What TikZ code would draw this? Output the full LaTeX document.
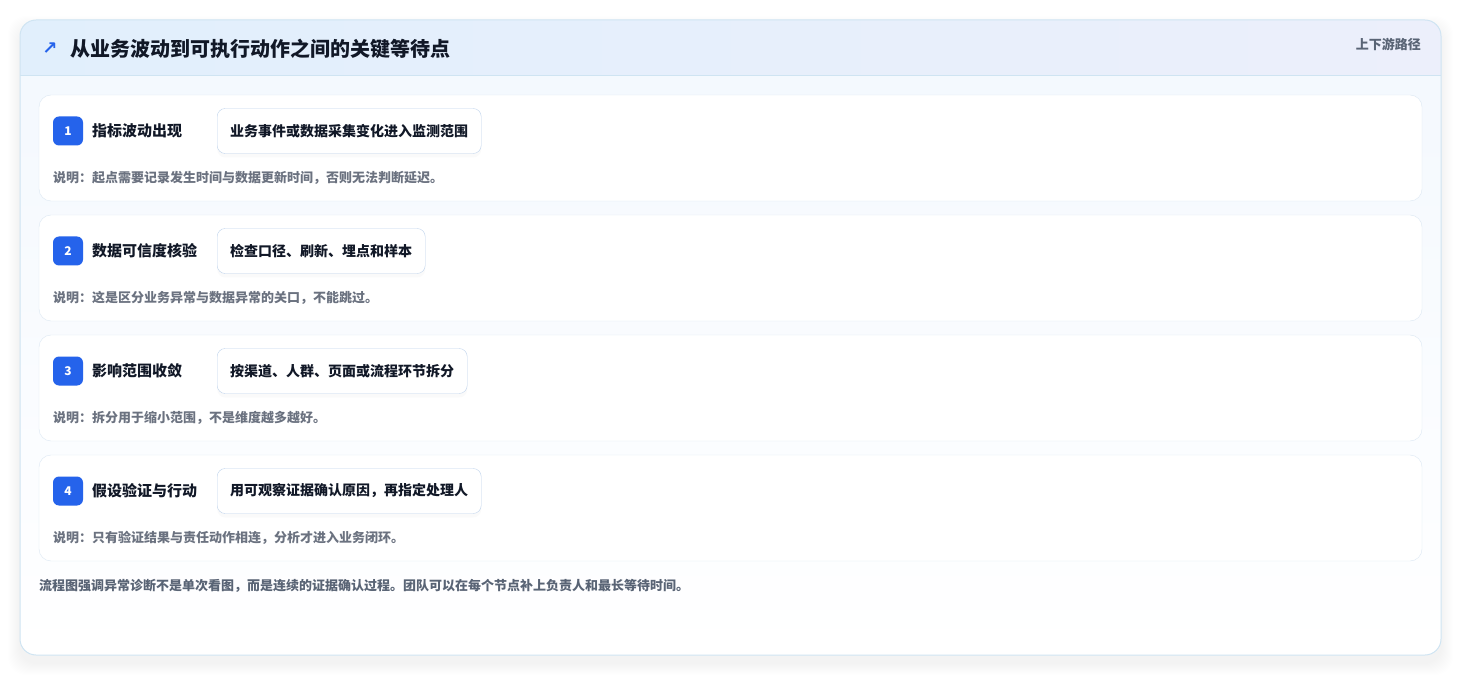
\documentclass[tikz,border=0pt]{standalone}
\usepackage{fontspec}
\setmainfont{Noto Sans CJK SC}
\newfontfamily\symfont{DejaVu Sans}
\usetikzlibrary{shadows}

\definecolor{cardline}{HTML}{CFE4F2}
\definecolor{hdrleft}{HTML}{E1EFFC}
\definecolor{hdrright}{HTML}{ECEFFB}
\definecolor{bodytop}{HTML}{F3F8FE}
\definecolor{rowline}{HTML}{DCE8F3}
\definecolor{boxline}{HTML}{BFD3EC}
\definecolor{badgeblue}{HTML}{2563EB}
\definecolor{titleink}{HTML}{111827}
\definecolor{noteink}{HTML}{6B7280}
\definecolor{footink}{HTML}{596475}

\tikzset{
  badge/.style={fill=badgeblue, rounded corners=6pt, minimum width=30pt,
    minimum height=29pt, inner sep=0pt, text=white,
    font=\fontsize{12}{14}\selectfont\bfseries},
  steplabel/.style={anchor=west, inner sep=0pt, text=titleink,
    font=\fontsize{15}{18}\selectfont\bfseries},
  actionbox/.style={anchor=west, draw=boxline, fill=white, rounded corners=8pt,
    minimum height=45pt, inner xsep=13pt, text=titleink,
    drop shadow={opacity=0.035, shadow xshift=0pt, shadow yshift=-4pt},
    font=\fontsize{14}{16}\selectfont\bfseries},
  notetext/.style={anchor=west, inner sep=0pt, text=noteink,
    font=\fontsize{13}{15}\selectfont\bfseries},
}

\begin{document}
\begin{tikzpicture}[x=1pt, y=-1pt]
    \useasboundingbox (0,0) rectangle (1462,676);

    % soft shadow of the card
    \foreach \s in {1,...,12}
        {\fill[black, opacity=0.005, rounded corners=18pt]
            (20-\s,28-\s) rectangle (1441+\s,663+\s);}

    % card body and header band
    \shade[top color=bodytop, bottom color=white, rounded corners=16pt]
        (20,20) rectangle (1441,655);
    \begin{scope}
        \clip (20,20) rectangle (1441,75);
        \shade[left color=hdrleft, right color=hdrright, rounded corners=16pt]
            (20,20) rectangle (1441,120);
    \end{scope}
    \draw[cardline, line width=0.8pt] (20,75) -- (1441,75);
    \draw[cardline, line width=1pt, rounded corners=16pt] (20,20) rectangle (1441,655);

    \node[text=badgeblue, font=\symfont\bfseries\fontsize{18}{18}\selectfont] (icon) at (50,49) {↗};
    \node[anchor=west, inner sep=0pt, text=titleink,
        font=\fontsize{20}{24}\selectfont\bfseries] (title) at (70,49)
        {从业务波动到可执行动作之间的关键等待点};
    \node[anchor=east, inner sep=0pt, text=footink,
        font=\fontsize{13}{15}\selectfont\bfseries] (path) at (1421,44) {上下游路径};

    % four steps
    \foreach \i/\name/\act/\note in {
        1/指标波动出现/业务事件或数据采集变化进入监测范围/说明：起点需要记录发生时间与数据更新时间，否则无法判断延迟。,
        2/数据可信度核验/检查口径、刷新、埋点和样本/说明：这是区分业务异常与数据异常的关口，不能跳过。,
        3/影响范围收敛/按渠道、人群、页面或流程环节拆分/说明：拆分用于缩小范围，不是维度越多越好。,
        4/假设验证与行动/用可观察证据确认原因，再指定处理人/说明：只有验证结果与责任动作相连，分析才进入业务闭环。}
    {
        \pgfmathsetmacro{\top}{95+120*(\i-1)}
        \draw[rowline, fill=white, rounded corners=12pt]
            (39,\top) rectangle (1422,\top+106);
        \node[badge] (badge\i) at (68,\top+36) {\i};
        \node[steplabel] (label\i) at (92,\top+36) {\name};
        \node[actionbox] (act\i) at (217,\top+36) {\act};
        \node[notetext] (note\i) at (53,\top+83) {\note};
    }

    \node[anchor=west, inner sep=0pt, text=footink,
        font=\fontsize{13}{15}\selectfont\bfseries] (foot) at (39,586)
        {流程图强调异常诊断不是单次看图，而是连续的证据确认过程。团队可以在每个节点补上负责人和最长等待时间。};
\end{tikzpicture}
\end{document}
